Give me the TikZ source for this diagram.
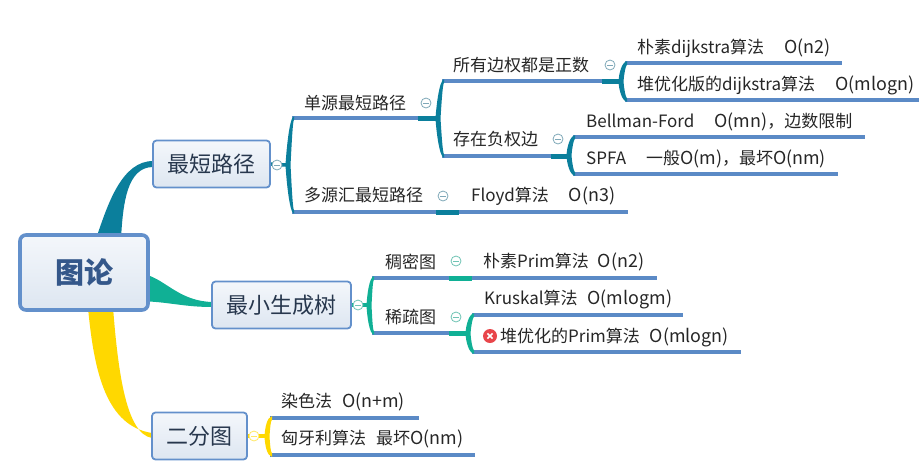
\documentclass[tikz,border=0pt]{standalone}
\usepackage{fontspec}
\setmainfont{Noto Sans CJK SC}
\usetikzlibrary{calc,backgrounds}
\definecolor{tealb}{HTML}{0B7F9C}
\definecolor{greenb}{HTML}{10B095}
\definecolor{yellowb}{HTML}{FFD800}
\definecolor{lineb}{HTML}{5B8AC6}
\definecolor{edgeb}{HTML}{6390CB}
\definecolor{inkb}{HTML}{27374D}
\definecolor{inkr}{HTML}{34578A}
\definecolor{redb}{HTML}{E8454A}
\definecolor{F1}{HTML}{F4F7FB}
\definecolor{F2}{HTML}{DDE6F1}
\definecolor{mteal}{HTML}{7FA8B8}
\definecolor{mgreen}{HTML}{6FC4B4}
\newcommand{\oo}[1]{{\fontsize{17.9}{20}\selectfont #1}}
\tikzset{
  topic/.style={draw=edgeb,line width=1.8pt,rounded corners=3.5pt,top color=F1,bottom color=F2,inner sep=0pt,text=inkb,font=\fontsize{22}{26}\selectfont},
  txt/.style={anchor=west,inner sep=0pt,text height=16pt,text depth=3pt,text=black!85,font=\fontsize{17}{20}\selectfont},
  ln/.style={lineb,line width=3.3pt},
  tk/.style={#1,line width=5pt},
  lk/.style={#1,line width=3.5pt},
  mn/.style={circle,draw=#1,fill=white,minimum size=10pt,line width=.8pt,inner sep=0pt,
    path picture={\draw[#1,line width=.9pt] ($(path picture bounding box.center)+(-2.6,0)$) -- ($(path picture bounding box.center)+(2.6,0)$);}},
  errb/.style={circle,fill=redb,minimum size=14pt,inner sep=0pt,
    path picture={\draw[white,line width=1.5pt] ($(path picture bounding box.center)+(-2.6,-2.6)$) -- ($(path picture bounding box.center)+(2.6,2.6)$) ($(path picture bounding box.center)+(-2.6,2.6)$) -- ($(path picture bounding box.center)+(2.6,-2.6)$);}}
}
% bracket between two named coordinates, bulging #4 to the left
\newcommand{\brk}[4]{\fill[#3] ($(#1)+(2,-1.8)$)
  .. controls ($(#1)+(-3,-1)$) and ($(#1)!.5!(#2)+(-#4,-9)$) .. ($(#1)!.5!(#2)+(-#4-.5,0)$)
  .. controls ($(#1)!.5!(#2)+(-#4,9)$) and ($(#2)+(-3,1)$) .. ($(#2)+(2,1.8)$)
  -- ($(#2)+(2,-1.6)$)
  .. controls ($(#2)+(.5,-3)$) and ($(#1)!.5!(#2)+(-#4+5,7)$) .. ($(#1)!.5!(#2)+(-#4+4.5,0)$)
  .. controls ($(#1)!.5!(#2)+(-#4+5,-7)$) and ($(#1)+(.5,3)$) .. ($(#1)+(2,1.6)$) -- cycle;}
\begin{document}
\begin{tikzpicture}[x=1pt,y=-1pt]
\useasboundingbox (0,0) rectangle (919,475);
% topics
\node[topic,draw=edgeb,line width=3.6pt,rounded corners=6pt,minimum width=128pt,minimum height=75pt,text=inkr,font=\fontsize{29}{34}\selectfont\bfseries] (root) at (84,272.5) {图论};
\node[topic,minimum width=117pt,minimum height=47pt] (sp) at (211.5,164) {最短路径};
\node[topic,minimum width=139pt,minimum height=47pt] (mst) at (281.5,305) {最小生成树};
\node[topic,minimum width=95pt,minimum height=47pt] (bp) at (199.5,436) {二分图};
% teal labels
\node[txt] (s1) at (304,103) {单源最短路径};
\node[txt] (s2) at (453,65) {所有边权都是正数};
\node[txt] (s3) at (637,47) {朴素dijkstra算法\hspace{20pt}\oo{O(n2)}};
\node[txt] (s4) at (637,84) {堆优化版的dijkstra算法\hspace{20pt}\oo{O(mlogn)}};
\node[txt] (s5) at (453,139) {存在负权边};
\node[txt] (s6) at (586,121) {Bellman-Ford\hspace{20pt}\oo{O(mn)}，边数限制};
\node[txt] (s7) at (586,158) {SPFA\hspace{20pt}一般\oo{O(m)}，最坏\oo{O(nm)}};
\node[txt] (s8) at (304,195) {多源汇最短路径};
\node[txt] (s9) at (471,195) {Floyd算法\hspace{20pt}\oo{O(n3)}};
% green labels
\node[txt] (m1) at (385,262) {稠密图};
\node[txt] (m2) at (483,261) {朴素Prim算法\hspace{9pt}\oo{O(n2)}};
\node[txt] (m3) at (385,317) {稀疏图};
\node[txt] (m4) at (484,298) {Kruskal算法\hspace{10pt}\oo{O(mlogm)}};
\node[errb] (m5i) at (490,336) {};
\node[txt] (m5) at (500,336) {堆优化的Prim算法\hspace{10pt}\oo{O(mlogn)}};
% yellow labels
\node[txt] (b1) at (281,401) {染色法\hspace{10pt}\oo{O(n+m)}};
\node[txt] (b2) at (281,438) {匈牙利算法\hspace{10pt}最坏\oo{O(nm)}};
% junction coordinates
\coordinate (aT) at (292,118); \coordinate (aB) at (292,212); \coordinate (aE) at (286,165);
\coordinate (bT) at (442,81);  \coordinate (bB) at (442,156); \coordinate (bM) at (436,118);
\coordinate (cT) at (625,63);  \coordinate (cB) at (625,100); \coordinate (cM) at (619,81);
\coordinate (dT) at (573,137); \coordinate (dB) at (573,174); \coordinate (dM) at (567,156);
\coordinate (eT) at (372,278); \coordinate (eB) at (372,333); \coordinate (eM) at (367,305);
\coordinate (fT) at (472,315); \coordinate (fB) at (472,352); \coordinate (fM) at (466,333);
\coordinate (gT) at (270,418); \coordinate (gB) at (270,455); \coordinate (gM) at (265,436);
\coordinate (aS) at (418,118); \coordinate (bS) at (602,81); \coordinate (dS) at (551,156);
\coordinate (hS) at (436,212); \coordinate (hM) at (459,212); \coordinate (hE) at (628,212);
\coordinate (cTe) at (842,63); \coordinate (cBe) at (919,100);
\coordinate (dTe) at (865,137); \coordinate (dBe) at (838,174);
\coordinate (iS) at (449,278); \coordinate (iM) at (472,278); \coordinate (iE) at (657,278);
\coordinate (fS) at (449,333); \coordinate (fTe) at (683,315); \coordinate (fBe) at (741,352);
\coordinate (gTe) at (419,418); \coordinate (gBe) at (475,455);
% collapse markers
\node[mn=mteal] (c0) at (277,165) {};
\node[mn=mteal] (c1) at (426,103) {};
\node[mn=mteal] (c2) at (610,65) {};
\node[mn=mteal] (c3) at (558,139) {};
\node[mn=mteal] (c4) at (443,196) {};
\node[mn=mgreen] (c5) at (358,305) {};
\node[mn=mgreen] (c6) at (456,261) {};
\node[mn=mgreen] (c7) at (456,317) {};
\node[mn=yellowb!60!white] (c8) at (254,436) {};
\begin{scope}[on background layer]
% main bands
\fill[tealb] ($(root.north west)+(79,2)$) .. controls ($(root.north west)+(90,-30)$) and ($(sp.west)+(-30,-3)$) .. ($(sp.west)+(1,-3)$)
  -- ($(sp.west)+(1,3)$) .. controls ($(sp.west)+(-25,3)$) and ($(root.north west)+(105,-30)$) .. ($(root.north west)+(103,2)$) -- cycle;
\fill[greenb] ($(root.east)+(-1,3)$) .. controls ($(root.east)+(18,10)$) and ($(mst.west)+(-30,-4)$) .. ($(mst.west)+(1,-3)$)
  -- ($(mst.west)+(1,2)$) .. controls ($(mst.west)+(-25,2)$) and ($(root.east)+(20,30)$) .. ($(root.east)+(-1,29)$) -- cycle;
\fill[yellowb] ($(root.south west)+(70,-2)$) .. controls ($(root.south west)+(76,60)$) and ($(bp.west)+(-45,-10)$) .. ($(bp.west)+(1,-3)$)
  -- ($(bp.west)+(1,2)$) .. controls ($(bp.west)+(-25,-2)$) and ($(root.south west)+(100,60)$) .. ($(root.south west)+(95,-2)$) -- cycle;
% stubs from topics to brackets
\draw[lk=tealb] (sp.east) -- (aE);
\draw[lk=greenb] (mst.east) -- (eM);
\draw[lk=yellowb] (bp.east) -- (gM);
% underlines
\draw[ln] (aT) -- (aS); \draw[ln] (aB) -- (hS); \draw[ln] (hM) -- (hE);
\draw[ln] (bT) -- (bS); \draw[ln] (bB) -- (dS);
\draw[ln] (cT) -- (cTe); \draw[ln] (cB) -- (cBe);
\draw[ln] (dT) -- (dTe); \draw[ln] (dB) -- (dBe);
\draw[ln] (eT) -- (iS); \draw[ln] (iM) -- (iE); \draw[ln] (eB) -- (fS);
\draw[ln] (fT) -- (fTe); \draw[ln] (fB) -- (fBe);
\draw[ln] (gT) -- (gTe); \draw[ln] (gB) -- (gBe);
% thick stems
\draw[tk=tealb] (aS) -- (bM); \draw[tk=tealb] (bS) -- (cM); \draw[tk=tealb] (dS) -- (dM);
\draw[tk=tealb] (hS) -- (hM);
\draw[tk=greenb] (iS) -- (iM); \draw[tk=greenb] (fS) -- (fM);
% brackets
\brk{aT}{aB}{tealb}{6}
\brk{bT}{bB}{tealb}{6}
\brk{cT}{cB}{tealb}{6}
\brk{dT}{dB}{tealb}{6}
\brk{eT}{eB}{greenb}{5}
\brk{fT}{fB}{greenb}{6}
\brk{gT}{gB}{yellowb}{5}
\end{scope}
\end{tikzpicture}
\end{document}
